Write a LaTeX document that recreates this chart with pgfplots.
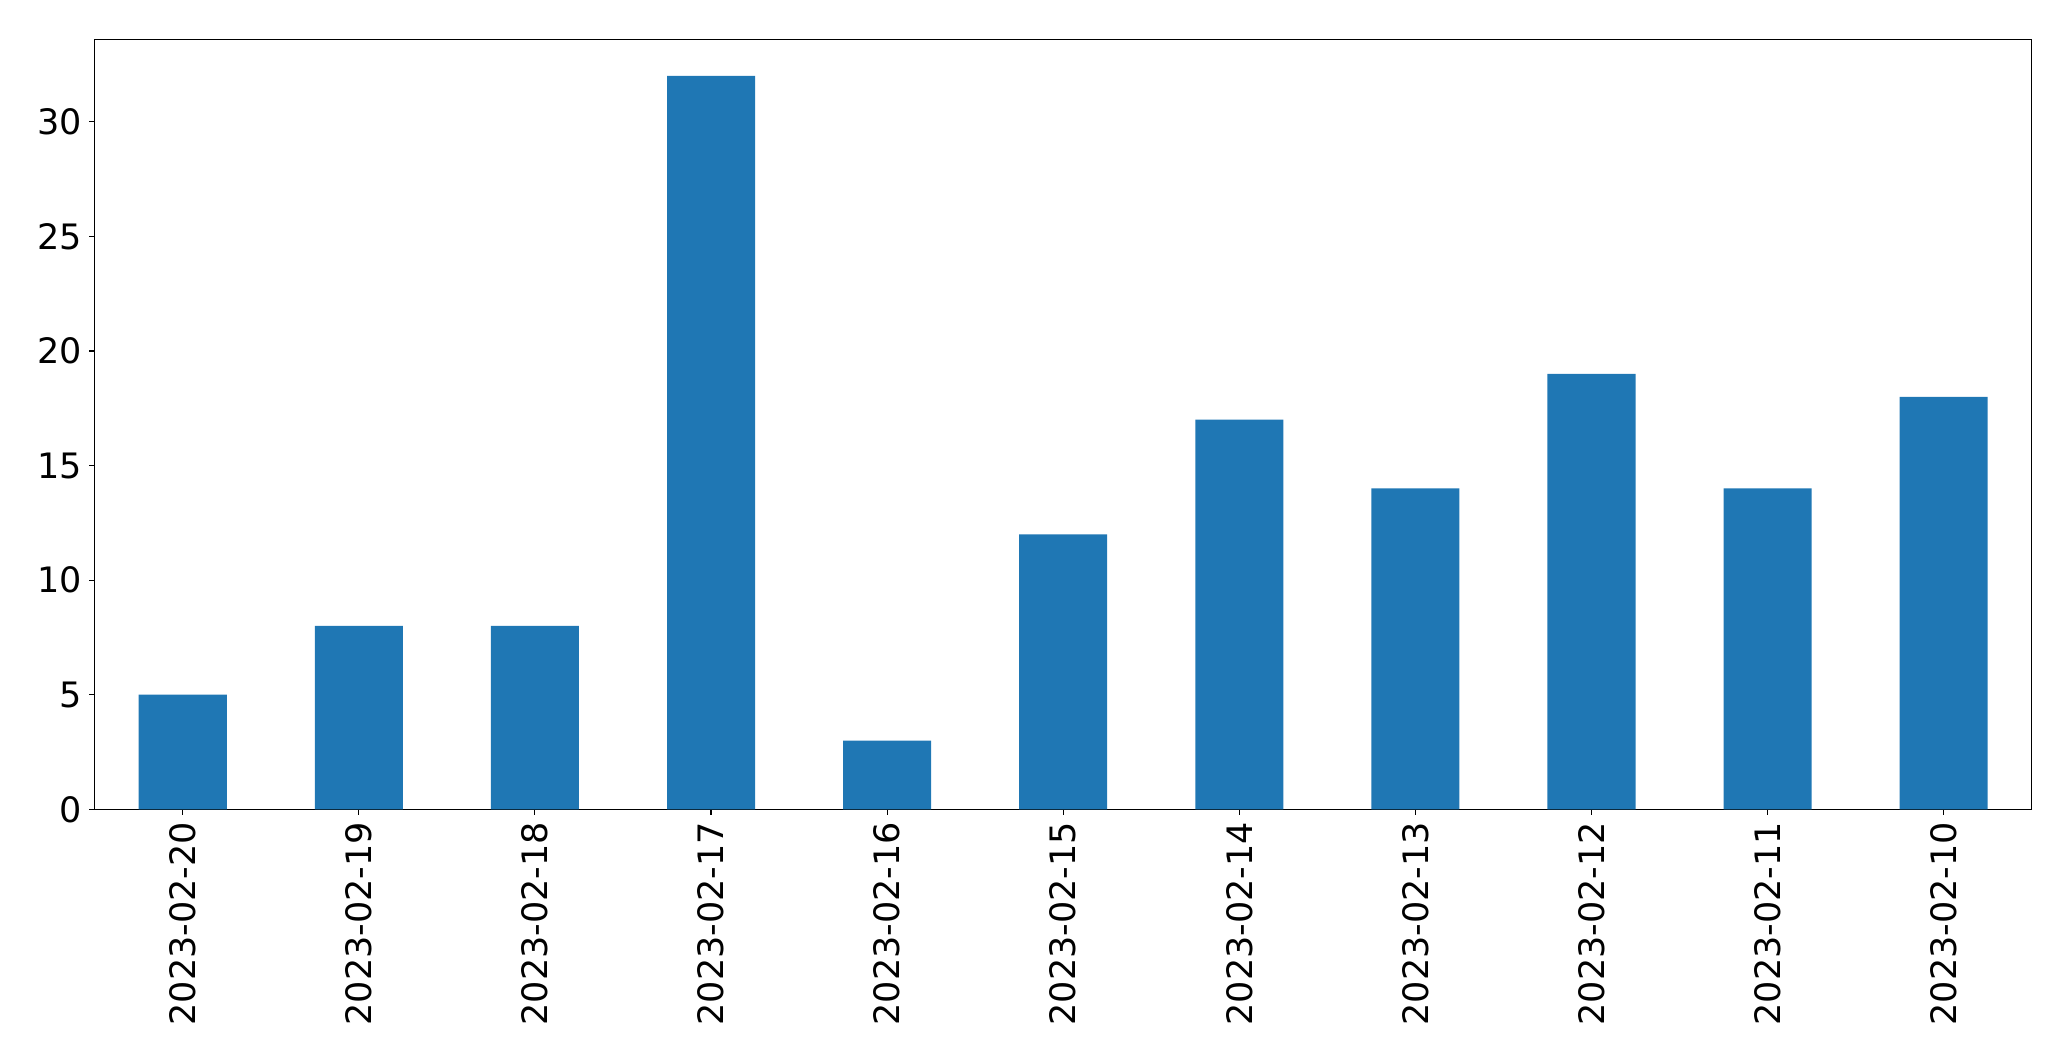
\documentclass[border=0pt]{standalone}
\usepackage{fontspec}
\setmainfont{DejaVu Sans}
\usepackage{pgfplots}
\pgfplotsset{compat=1.18}
\definecolor{tabblue}{HTML}{1F77B4}
\begin{document}
\fontsize{17.5}{21}\selectfont
\begin{tikzpicture}
\begin{axis}[
  name=ax,
  scale only axis,
  width=968.5pt, height=385pt,
  xmin=-0.5, xmax=10.5, ymin=0, ymax=33.6,
  xtick={0,1,2,3,4,5,6,7,8,9,10},
  xticklabels={2023-02-20,2023-02-19,2023-02-18,2023-02-17,2023-02-16,2023-02-15,2023-02-14,2023-02-13,2023-02-12,2023-02-11,2023-02-10},
  ytick={0,5,10,15,20,25,30},
  tick align=outside,
  xtick pos=bottom, ytick pos=left,
  major tick length=2.7pt,
  tick style={line width=0.55pt, black},
  axis line style={line width=0.55pt},
  /pgf/number format/assume math mode=true,
  ticklabel style={font=\fontsize{17.5}{21}\selectfont},
  xticklabel style={rotate=90, anchor=east, inner sep=0pt, yshift=0pt, xshift=0pt},
  yticklabel style={inner sep=0pt, xshift=-3.5pt},
  xticklabel shift=3.5pt,
]
\addplot[ybar, bar width=0.5, fill=tabblue, draw=none] coordinates {
(0,5) (1,8) (2,8) (3,32) (4,3) (5,12) (6,17) (7,14) (8,19) (9,14) (10,18)
};
\end{axis}
\pgfresetboundingbox
\path (ax.south west) ++(-47.35pt,-125.85pt) coordinate (bl);
\path (ax.north east) ++(19.65pt,19.65pt) coordinate (tr);
\path[use as bounding box] (bl) rectangle (tr);
\end{tikzpicture}
\end{document}
